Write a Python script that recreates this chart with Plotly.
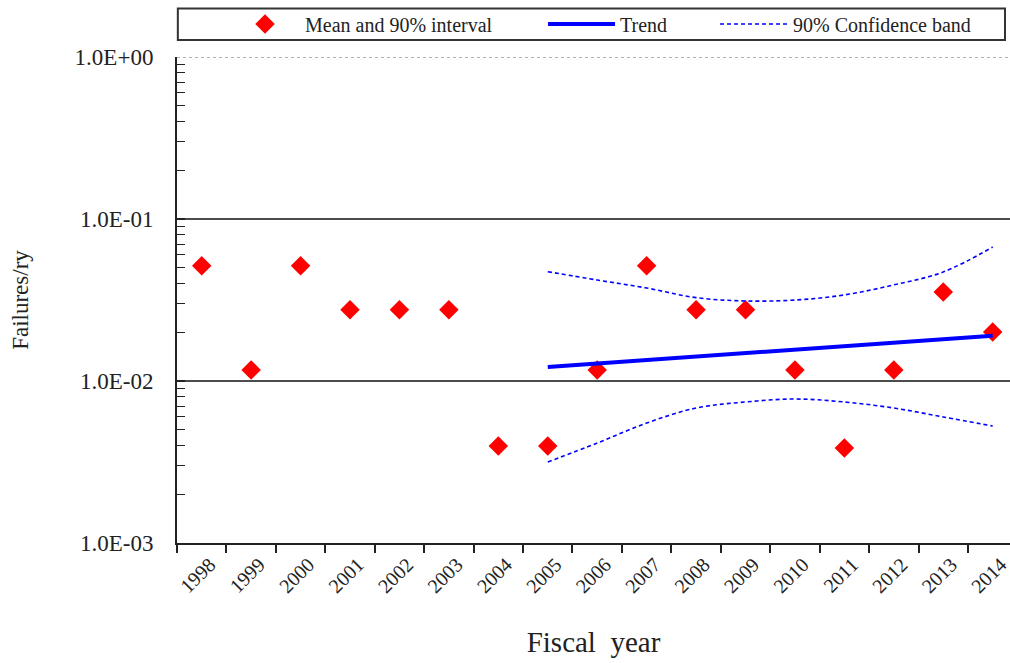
import plotly.graph_objects as go

# Fiscal years and observed failure rates (failures per reactor-year)
years = ["1998", "1999", "2000", "2001", "2002", "2003", "2004", "2005", "2006",
         "2007", "2008", "2009", "2010", "2011", "2012", "2013", "2014"]
mean_rate = [0.0515, 0.0117, 0.0515, 0.0275, 0.0275, 0.0275, 0.00397, 0.00397, 0.0117,
             0.0515, 0.0275, 0.0275, 0.0117, 0.00386, 0.0117, 0.0354, 0.0201]

# Fitted trend and its 90% confidence band, 2005-2014
trend_years = ["2005", "2006", "2007", "2008", "2009", "2010", "2011", "2012", "2013", "2014"]
trend = [0.0122, 0.0128, 0.0135, 0.0142, 0.0149, 0.0157, 0.0164, 0.0173, 0.0181, 0.0190]
band_upper = [0.0473, 0.0420, 0.0375, 0.0327, 0.0312, 0.0316, 0.0340, 0.0392, 0.0471, 0.0672]
band_lower = [0.00316, 0.00414, 0.00550, 0.00681, 0.00742, 0.00774, 0.00742, 0.00681, 0.00600, 0.00527]

# Decade ticks on the log axis and their labels
ytick_vals = [0.001, 0.01, 0.1, 1.0]
ytick_text = ["1.0E-03", "1.0E-02", "1.0E-01", "1.0E+00"]
minor_mult = [2, 3, 4, 5, 6, 7, 8, 9]
minor_vals = [m * d for d in ytick_vals[:-1] for m in minor_mult]

SERIF = "Liberation Serif"
BLUE = "#0000FF"
INK = "#222222"

fig = go.Figure()

fig.add_trace(go.Scatter(
    x=years, y=mean_rate, mode="markers", name="Mean and 90% interval",
    legend="legend",
    marker=dict(symbol="diamond", size=15, color="#FF0000", line=dict(width=0)),
))
fig.add_trace(go.Scatter(
    x=trend_years, y=trend, mode="lines", name="Trend",
    legend="legend2",
    line=dict(color=BLUE, width=4),
))
fig.add_trace(go.Scatter(
    x=trend_years, y=band_upper, mode="lines", name="90% Confidence band",
    legend="legend3",
    line=dict(color=BLUE, width=1.6, dash="4px,3px", shape="spline"),
))
fig.add_trace(go.Scatter(
    x=trend_years, y=band_lower, mode="lines", name="90% Confidence band",
    showlegend=False, legend="legend3",
    line=dict(color=BLUE, width=1.6, dash="4px,3px", shape="spline"),
))

# Horizontal reference lines at the decades
for level, color, dash in [(0.1, "#111111", "solid"), (0.01, "#111111", "solid"), (1.0, "#999999", "dot")]:
    fig.add_shape(type="line", xref="paper", yref="y", x0=0, x1=1, y0=level, y1=level,
                  line=dict(color=color, width=1.5, dash=dash), layer="below")

# Frame around the legend row
fig.add_shape(type="rect", xref="paper", yref="paper",
              x0=0.001, x1=0.994, y0=1.035, y1=1.1,
              line=dict(color="#333333", width=2), fillcolor="white")

legend_common = dict(
    orientation="h", yanchor="middle", y=1.068, xanchor="left",
    bgcolor="rgba(0,0,0,0)", borderwidth=0,
    font=dict(family=SERIF, size=20, color=INK),
)

fig.update_layout(
    width=1010, height=663,
    margin=dict(l=177, r=0, t=57, b=120),
    paper_bgcolor="white", plot_bgcolor="white",
    font=dict(family=SERIF, color=INK, size=15),
    showlegend=True,
    legend=dict(legend_common, x=0.0576, itemwidth=70),
    legend2=dict(legend_common, x=0.4394, itemwidth=67),
    legend3=dict(legend_common, x=0.6459, itemwidth=68),
    xaxis=dict(
        type="category", categoryorder="array", categoryarray=years,
        range=[-0.5, 16.35],
        tickson="boundaries", ticks="outside", ticklen=8, tickwidth=1.5, tickcolor=INK,
        tickangle=-45, tickfont=dict(family=SERIF, size=20, color=INK),
        ticklabelshift=8,
        showline=True, linecolor=INK, linewidth=2,
        showgrid=False, zeroline=False,
        title=dict(text="Fiscal  year", font=dict(family=SERIF, size=29, color=INK), standoff=36),
    ),
    yaxis=dict(
        type="log", range=[-3, 0],
        tickvals=ytick_vals, ticktext=ytick_text,
        ticks="inside", ticklen=8, tickwidth=1.5, tickcolor=INK,
        ticklabelstandoff=17,
        tickfont=dict(family=SERIF, size=23, color=INK),
        minor=dict(tickvals=minor_vals, ticks="inside", ticklen=8, tickwidth=1.2,
                   tickcolor=INK, showgrid=False),
        showline=True, linecolor=INK, linewidth=2,
        showgrid=False, zeroline=False,
        title=dict(text="Failures/ry", font=dict(family=SERIF, size=23, color=INK), standoff=40),
    ),
)

fig.write_html("out.html")
